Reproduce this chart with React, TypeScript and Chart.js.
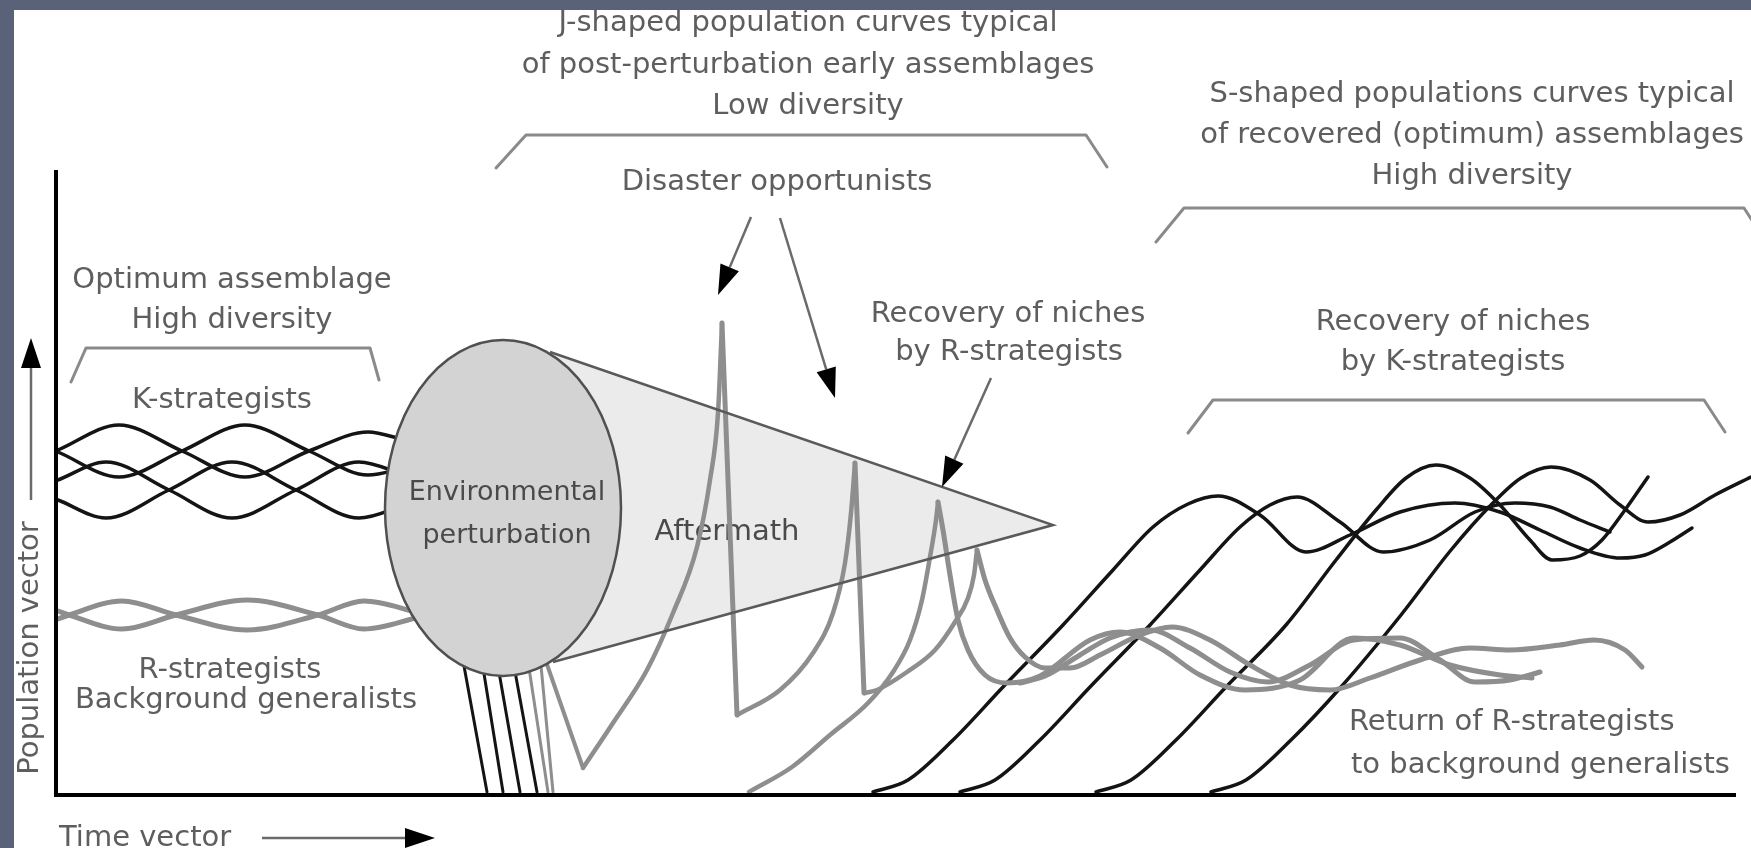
import React, { useEffect, useRef } from "react";
import { Chart, registerables } from "chart.js";

Chart.register(...registerables);

type Pt = [number, number];

// x: time vector (arbitrary units), y: population vector (arbitrary units)
const TIME_MAX = 1695;
const POP_MAX = 625;

// ---- Optimum assemblage before the perturbation ----
const kBefore1: Pt[] = [[2, 345], [63, 370], [126, 344], [189, 318], [253, 344], [312, 363], [349, 355]];
const kBefore2: Pt[] = [[2, 343], [63, 318], [126, 344], [189, 370], [253, 344], [312, 320], [349, 327]];
const kBefore3: Pt[] = [[2, 295], [50, 277], [113, 305], [176, 333], [240, 305], [303, 277], [349, 290]];
const kBefore4: Pt[] = [[2, 315], [50, 333], [113, 305], [176, 277], [240, 305], [303, 333], [349, 320]];
const rBefore1: Pt[] = [[2, 176], [13, 180], [66, 194], [120, 180], [191, 165], [262, 180], [308, 194], [364, 182]];
const rBefore2: Pt[] = [[2, 184], [13, 180], [66, 166], [120, 180], [191, 195], [262, 180], [308, 166], [364, 178]];

// ---- Collapse through the perturbation ----
const kCrash1: Pt[] = [[406, 140], [431, 3]];
const kCrash2: Pt[] = [[425, 140], [447, 3]];
const kCrash3: Pt[] = [[440, 140], [464, 3]];
const kCrash4: Pt[] = [[456, 140], [481, 3]];
const rCrash1: Pt[] = [[471, 140], [492, 3]];
const rCrash2: Pt[] = [[484, 140], [497, 3]];
const rCrash3: Pt[] = [[486, 145], [527, 27]];

// ---- Disaster opportunists: J-shaped booms and busts ----
const boom1: Pt[] = [[527, 27], [557, 72], [591, 125], [617, 182], [641, 248], [654, 315], [662, 382], [666, 472]];
const bust1: Pt[] = [[666, 472], [681, 80]];
const boom2: Pt[] = [[681, 80], [724, 105], [757, 142], [777, 182], [789, 232], [795, 282], [799, 332]];
const bust2: Pt[] = [[799, 332], [808, 102]];
const boom3: Pt[] = [[808, 102], [821, 105], [851, 123], [879, 145], [899, 173], [912, 197], [918, 220], [921, 245]];
const rRecovery: Pt[] = [[693, 3], [736, 28], [774, 60], [812, 92], [837, 123], [854, 155], [866, 195], [874, 238], [880, 275], [882, 293]];

// ---- Return of R-strategists to background generalists ----
const rAfter1: Pt[] = [[882, 293], [887, 265], [894, 220], [902, 175], [912, 145], [929, 120], [951, 112], [984, 119], [1034, 155], [1064, 163], [1104, 147], [1144, 120], [1189, 105], [1244, 115], [1298, 157], [1344, 150], [1394, 130], [1444, 120], [1476, 117]];
const rAfter2: Pt[] = [[921, 245], [929, 215], [941, 185], [954, 157], [969, 138], [989, 127], [1014, 127], [1044, 140], [1084, 160], [1116, 168], [1154, 155], [1194, 130], [1234, 110], [1274, 105], [1314, 117], [1364, 135], [1414, 147], [1454, 145], [1504, 150], [1538, 155], [1569, 145], [1586, 128]];
const rAfter3: Pt[] = [[964, 112], [989, 119], [1024, 140], [1054, 157], [1094, 165], [1134, 147], [1174, 123], [1212, 113], [1254, 130], [1298, 155], [1344, 157], [1384, 135], [1419, 113], [1454, 115], [1484, 123]];

// ---- K-strategists: S-shaped recovery ----
const kAfter1: Pt[] = [[817, 3], [852, 15], [897, 55], [947, 108], [1007, 170], [1057, 225], [1097, 268], [1132, 291], [1162, 299], [1204, 280], [1250, 243], [1294, 260], [1344, 283], [1399, 292], [1444, 283], [1484, 265], [1524, 247], [1564, 237], [1589, 240], [1614, 253], [1636, 267]];
const kAfter2: Pt[] = [[904, 3], [939, 15], [984, 55], [1034, 108], [1094, 170], [1144, 225], [1184, 268], [1214, 290], [1241, 298], [1284, 273], [1327, 243], [1374, 255], [1419, 283], [1459, 292], [1494, 288], [1524, 275], [1554, 263]];
const kAfter3: Pt[] = [[1040, 3], [1075, 15], [1120, 55], [1170, 108], [1230, 170], [1280, 235], [1320, 285], [1350, 317], [1380, 330], [1414, 317], [1444, 290], [1474, 255], [1496, 235], [1524, 239], [1546, 255], [1569, 285], [1592, 318]];
const kAfter4: Pt[] = [[1155, 3], [1190, 15], [1235, 55], [1285, 108], [1345, 180], [1395, 245], [1435, 290], [1465, 317], [1495, 328], [1534, 315], [1564, 290], [1592, 273], [1624, 280], [1659, 300], [1695, 318]];

// ---- Brackets ----
const bracketOptimum: Pt[] = [[15, 413], [30, 447], [314, 447], [323, 415]];
const bracketJShaped: Pt[] = [[440, 627], [470, 660], [1030, 660], [1051, 628]];
const bracketSShaped: Pt[] = [[1100, 553], [1128, 587], [1688, 587], [1709, 555]];
const bracketKNiches: Pt[] = [[1132, 362], [1157, 395], [1648, 395], [1669, 363]];

// ---- Perturbation ellipse and aftermath cone ----
const ellipseCenter: Pt = [447, 287];
const ellipseRadii: Pt = [118, 168];
const coneUpper: Pt = [494, 443];
const coneApex: Pt = [997, 270];
const coneLower: Pt = [497, 133];

// ---- Arrows [from, to] ----
const arrows: [Pt, Pt][] = [
  [[695, 578], [662, 500]],
  [[724, 577], [779, 397]],
  [[935, 417], [886, 308]],
  [[-25, 295], [-25, 457]],
  [[206, -43], [379, -43]],
];

// ---- Labels [text, x, y, align] ----
const labels: [string, number, number, CanvasTextAlign][] = [
  ["J-shaped population curves typical", 752, 764, "center"],
  ["of post-perturbation early assemblages", 752, 722, "center"],
  ["Low diversity", 752, 681, "center"],
  ["Disaster opportunists", 721, 605, "center"],
  ["Optimum assemblage", 176, 507, "center"],
  ["High diversity", 176, 467, "center"],
  ["K-strategists", 166, 387, "center"],
  ["R-strategists", 174, 117, "center"],
  ["Background generalists", 190, 87, "center"],
  ["Recovery of niches", 952, 473, "center"],
  ["by R-strategists", 953, 435, "center"],
  ["S-shaped populations curves typical", 1416, 693, "center"],
  ["of recovered (optimum) assemblages", 1416, 652, "center"],
  ["High diversity", 1416, 611, "center"],
  ["Recovery of niches", 1397, 465, "center"],
  ["by K-strategists", 1397, 425, "center"],
  ["Return of R-strategists", 1293, 65, "left"],
  ["to background generalists", 1295, 22, "left"],
  ["Time vector", 3, -51, "left"],
];
const aftermathLabel: [string, number, number] = ["Aftermath", 671, 255];
const ellipseLabels: [string, number, number][] = [
  ["Environmental", 451, 295],
  ["perturbation", 451, 252],
];
const yAxisTitle: [string, number, number] = ["Population vector", -18, 147];
const axisEnd: Pt = [1680, 625];

const FONT = '"DejaVu Sans", "Liberation Sans", sans-serif';
const BLACK = "#141414";
const GREY = "#8e8e8e";
const TEXT = "#5e5e5e";

function series(pts: Pt[], color: string, width: number, smooth: boolean) {
  return {
    data: pts.map(([x, y]) => ({ x, y })),
    borderColor: color,
    borderWidth: width,
    pointRadius: 0,
    pointHoverRadius: 0,
    fill: false,
    clip: false as any,
    tension: smooth ? 0.4 : 0,
    cubicInterpolationMode: smooth ? ("monotone" as const) : ("default" as const),
    borderCapStyle: "round" as const,
    borderJoinStyle: "round" as const,
  };
}

const diagramPlugin = {
  id: "diagram",
  beforeDraw(chart: any) {
    const { ctx, width, height } = chart;
    ctx.save();
    ctx.fillStyle = "#596278";
    ctx.fillRect(0, 0, width, height);
    ctx.fillStyle = "#ffffff";
    ctx.fillRect(14, 10, width - 14, height - 10);
    ctx.restore();
  },
  beforeDatasetsDraw(chart: any) {
    const { ctx } = chart;
    const xs = chart.scales.x;
    const ys = chart.scales.y;
    const px = (v: number) => xs.getPixelForValue(v);
    const py = (v: number) => ys.getPixelForValue(v);
    ctx.save();
    // cone fill
    ctx.fillStyle = "#ebebeb";
    ctx.beginPath();
    ctx.moveTo(px(coneUpper[0]), py(coneUpper[1]));
    ctx.lineTo(px(coneApex[0]), py(coneApex[1]));
    ctx.lineTo(px(coneLower[0]), py(coneLower[1]));
    ctx.lineTo(px(ellipseCenter[0]), py(ellipseCenter[1]));
    ctx.closePath();
    ctx.fill();
    // labels
    ctx.fillStyle = TEXT;
    ctx.font = `29px ${FONT}`;
    ctx.textBaseline = "alphabetic";
    for (const [t, x, y, a] of labels) {
      ctx.textAlign = a;
      ctx.fillText(t, px(x), py(y));
    }
    ctx.fillStyle = "#4a4a4a";
    ctx.textAlign = "center";
    ctx.fillText(aftermathLabel[0], px(aftermathLabel[1]), py(aftermathLabel[2]));
    // y axis title
    ctx.save();
    ctx.fillStyle = TEXT;
    ctx.translate(px(yAxisTitle[1]), py(yAxisTitle[2]));
    ctx.rotate(-Math.PI / 2);
    ctx.textAlign = "center";
    ctx.fillText(yAxisTitle[0], 0, 0);
    ctx.restore();
    ctx.restore();
  },
  afterDatasetsDraw(chart: any) {
    const { ctx } = chart;
    const xs = chart.scales.x;
    const ys = chart.scales.y;
    const px = (v: number) => xs.getPixelForValue(v);
    const py = (v: number) => ys.getPixelForValue(v);
    ctx.save();
    // ellipse
    const cx = px(ellipseCenter[0]);
    const cy = py(ellipseCenter[1]);
    const rx = px(ellipseCenter[0] + ellipseRadii[0]) - cx;
    const ry = cy - py(ellipseCenter[1] + ellipseRadii[1]);
    ctx.beginPath();
    ctx.ellipse(cx, cy, rx, ry, 0, 0, Math.PI * 2);
    ctx.fillStyle = "#d3d3d3";
    ctx.fill();
    ctx.lineWidth = 2.5;
    ctx.strokeStyle = "#505050";
    ctx.stroke();
    // cone edges
    ctx.lineWidth = 2.5;
    ctx.strokeStyle = "#5a5a5a";
    ctx.beginPath();
    ctx.moveTo(px(coneUpper[0]), py(coneUpper[1]));
    ctx.lineTo(px(coneApex[0]), py(coneApex[1]));
    ctx.lineTo(px(coneLower[0]), py(coneLower[1]));
    ctx.stroke();
    // ellipse text
    ctx.fillStyle = "#4a4a4a";
    ctx.font = `27px ${FONT}`;
    ctx.textAlign = "center";
    ctx.textBaseline = "alphabetic";
    for (const [t, x, y] of ellipseLabels) ctx.fillText(t, px(x), py(y));
    // axes
    ctx.strokeStyle = "#000";
    ctx.lineWidth = 4;
    ctx.lineCap = "butt";
    ctx.beginPath();
    ctx.moveTo(px(0), py(axisEnd[1]));
    ctx.lineTo(px(0), py(0));
    ctx.lineTo(px(axisEnd[0]), py(0));
    ctx.stroke();
    // arrows
    for (const [[x1, y1], [x2, y2]] of arrows) {
      const ax = px(x1), ay = py(y1), bx = px(x2), by = py(y2);
      const ang = Math.atan2(by - ay, bx - ax);
      const len = 30, half = 10;
      const baseX = bx - len * Math.cos(ang);
      const baseY = by - len * Math.sin(ang);
      ctx.strokeStyle = "#6a6a6a";
      ctx.lineWidth = 2.5;
      ctx.beginPath();
      ctx.moveTo(ax, ay);
      ctx.lineTo(baseX, baseY);
      ctx.stroke();
      ctx.fillStyle = "#000";
      ctx.beginPath();
      ctx.moveTo(bx, by);
      ctx.lineTo(baseX + half * Math.sin(ang), baseY - half * Math.cos(ang));
      ctx.lineTo(baseX - half * Math.sin(ang), baseY + half * Math.cos(ang));
      ctx.closePath();
      ctx.fill();
    }
    ctx.restore();
  },
};

export default function App() {
  const ref = useRef<HTMLCanvasElement | null>(null);
  useEffect(() => {
    document.body.style.margin = "0";
    document.body.style.overflow = "hidden";
    const canvas = ref.current;
    if (!canvas) return;
    const datasets = [
      series(bracketOptimum, "#8a8a8a", 3, false),
      series(bracketJShaped, "#8a8a8a", 3, false),
      series(bracketSShaped, "#8a8a8a", 3, false),
      series(bracketKNiches, "#8a8a8a", 3, false),
      series(rBefore1, GREY, 5, true),
      series(rBefore2, GREY, 5, true),
      series(rCrash1, GREY, 3, false),
      series(rCrash2, GREY, 3, false),
      series(rCrash3, GREY, 4, false),
      series(boom1, GREY, 4.5, true),
      series(bust1, GREY, 5, false),
      series(boom2, GREY, 4.5, true),
      series(bust2, GREY, 5, false),
      series(boom3, GREY, 4.5, true),
      series(rRecovery, GREY, 4.5, true),
      series(rAfter1, GREY, 5, true),
      series(rAfter2, GREY, 5, true),
      series(rAfter3, GREY, 5, true),
      series(kBefore1, BLACK, 3.5, true),
      series(kBefore2, BLACK, 3.5, true),
      series(kBefore3, BLACK, 3.5, true),
      series(kBefore4, BLACK, 3.5, true),
      series(kCrash1, BLACK, 3, false),
      series(kCrash2, BLACK, 3, false),
      series(kCrash3, BLACK, 3, false),
      series(kCrash4, BLACK, 3, false),
      series(kAfter1, BLACK, 3.5, true),
      series(kAfter2, BLACK, 3.5, true),
      series(kAfter3, BLACK, 3.5, true),
      series(kAfter4, BLACK, 3.5, true),
    ];
    const chart = new Chart(canvas, {
      type: "line",
      data: { datasets: datasets as any },
      options: {
        animation: false,
        responsive: false,
        devicePixelRatio: 1,
        events: [],
        layout: { padding: { left: 56, top: 170, right: 0, bottom: 53 } },
        elements: { line: { capBezierPoints: false } },
        plugins: { legend: { display: false }, tooltip: { enabled: false }, title: { display: false } },
        scales: {
          x: { type: "linear", min: 0, max: TIME_MAX, display: false },
          y: { type: "linear", min: 0, max: POP_MAX, display: false },
        },
      },
      plugins: [diagramPlugin],
    });
    return () => chart.destroy();
  }, []);
  return <canvas ref={ref} width={1751} height={848} style={{ display: "block" }} />;
}
